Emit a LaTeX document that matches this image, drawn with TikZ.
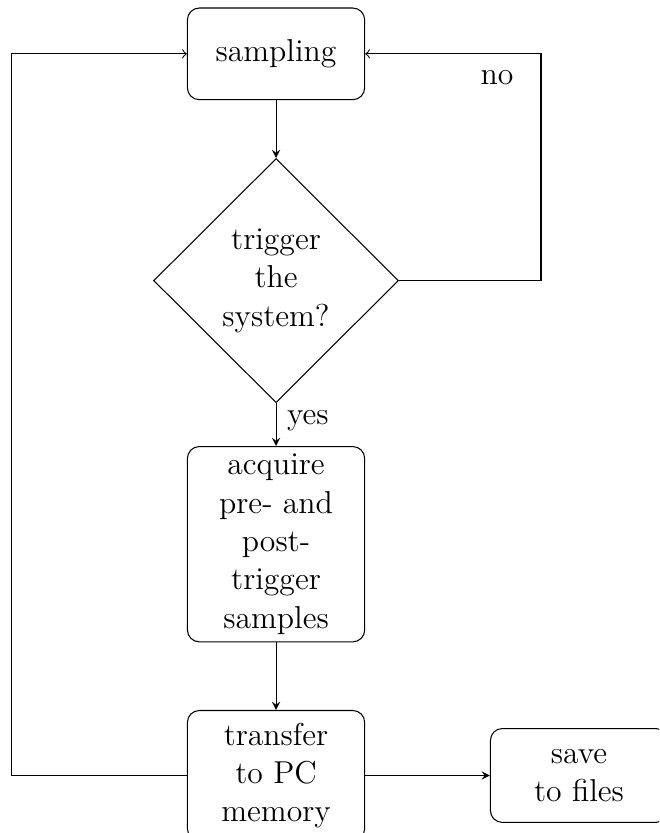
\documentclass[12pt,tikz,border=0pt]{standalone}
\usepackage{xcolor}
\usepackage{tikz}
\usetikzlibrary{positioning,shapes.geometric}

\begin{document}
\begin{tikzpicture}[
  box/.style={draw, rectangle, rounded corners=4.5pt, align=center, minimum width=2.36cm, inner sep=2pt},
  decision/.style={draw, diamond, align=center, minimum width=3.26cm, minimum height=3.25cm, inner sep=0pt},
  line/.style={draw, -stealth},
  back/.style={draw, ->}
]
\clip (0,0) rectangle (8.775,11.09);
\node[box, minimum height=1.22cm] (sampling) at (3.675,10.373) {sampling};
\node[decision, below=0.77cm of sampling] (trigger) {trigger\\the\\system?};
\node[box, minimum height=2.6cm, below=0.57cm of trigger] (acquire) {acquire\\pre- and\\post-\\trigger\\samples};
\node[box, minimum height=1.73cm, below=0.9cm of acquire] (transfer) {transfer\\to PC\\memory};
\node[box, minimum height=1.25cm, right=1.66cm of transfer] (save) {save\\to files};

\draw[line] (sampling) -- (trigger);
\draw[line] (trigger) -- node[right, pos=0.4] {yes} (acquire);
\draw[line] (acquire) -- (transfer);
\draw[line] (transfer) -- (save);
\draw[back] (trigger.east) -- ++(1.89,0) |- node[below, pos=0.625, yshift=-2pt] {no} (sampling.east);
\draw[back] (transfer.west) -- ++(-2.33,0) |- (sampling.west);
\end{tikzpicture}
\end{document}
